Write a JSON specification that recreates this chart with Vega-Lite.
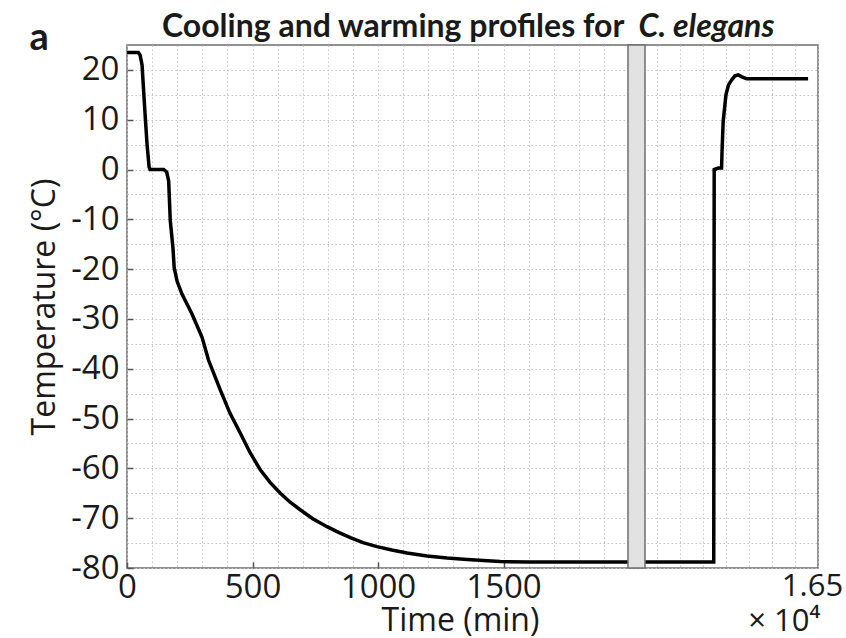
{
  "$schema": "https://vega.github.io/schema/vega-lite/v6.json",
  "width": 691,
  "height": 523,
  "autosize": "none",
  "padding": {"left": 127, "top": 45, "right": 28, "bottom": 70},
  "background": "white",
  "title": {
    "text": "Cooling and warming profiles for",
    "subtitle": "\u200b\u00a0\u00a0\u00a0\u00a0\u00a0\u00a0\u00a0\u00a0\u00a0\u00a0\u00a0\u00a0\u00a0\u00a0\u00a0\u00a0\u00a0\u00a0\u00a0\u00a0\u00a0\u00a0\u00a0\u00a0\u00a0\u00a0\u00a0\u00a0\u00a0\u00a0\u00a0\u00a0\u00a0\u00a0\u00a0\u00a0\u00a0\u00a0\u00a0\u00a0\u00a0\u00a0\u00a0\u00a0\u00a0\u00a0\u00a0\u00a0\u00a0\u00a0\u00a0\u00a0\u00a0\u00a0\u00a0\u00a0\u00a0\u00a0\u00a0\u00a0\u00a0\u00a0\u00a0\u00a0\u00a0\u00a0\u00a0\u00a0C. elegans",
    "anchor": "start",
    "align": "left",
    "frame": "group",
    "dx": 35,
    "offset": -50,
    "baseline": "alphabetic",
    "font": "Lato",
    "fontSize": 32,
    "fontWeight": "bold",
    "color": "#1a1a1a",
    "subtitleFont": "Lato",
    "subtitleFontSize": 32,
    "subtitleFontWeight": "bold",
    "subtitleFontStyle": "italic",
    "subtitleColor": "#1a1a1a",
    "subtitlePadding": -32
  },
  "resolve": {"axis": {"x": "independent"}},
  "config": {
    "view": {"stroke": "#6e6e6e", "strokeWidth": 1.5},
    "axis": {
      "domain": false,
      "ticks": false,
      "grid": true,
      "gridColor": "#c4c4c4",
      "gridDash": [1.5, 2.5],
      "gridWidth": 1,
      "labelFont": "Open Sans",
      "labelFontSize": 33,
      "labelColor": "#1a1a1a",
      "titleFont": "Open Sans",
      "titleFontSize": 32,
      "titleFontWeight": "normal",
      "titleColor": "#1a1a1a",
      "labelOverlap": false,
      "labelFlush": false
    }
  },
  "datasets": {
    "profile": [
      {"time": 0, "temp": 23.5},
      {"time": 45, "temp": 23.5},
      {"time": 52, "temp": 23},
      {"time": 60, "temp": 21},
      {"time": 66, "temp": 16},
      {"time": 73, "temp": 10.3},
      {"time": 80, "temp": 5},
      {"time": 88, "temp": 0.5},
      {"time": 92, "temp": 0},
      {"time": 146, "temp": 0},
      {"time": 158, "temp": -0.5},
      {"time": 166, "temp": -2.3},
      {"time": 172.5, "temp": -10.3},
      {"time": 183, "temp": -15.7},
      {"time": 188, "temp": -19.7},
      {"time": 200, "temp": -22.5},
      {"time": 219, "temp": -25},
      {"time": 259, "temp": -29},
      {"time": 299, "temp": -33.7},
      {"time": 325, "temp": -38.3},
      {"time": 372, "temp": -44.3},
      {"time": 410, "temp": -48.9},
      {"time": 451, "temp": -52.9},
      {"time": 490, "temp": -56.8},
      {"time": 531, "temp": -60.3},
      {"time": 570, "temp": -62.8},
      {"time": 611, "temp": -65},
      {"time": 650, "temp": -66.8},
      {"time": 690, "temp": -68.3},
      {"time": 740, "temp": -70.1},
      {"time": 797, "temp": -71.7},
      {"time": 845, "temp": -72.9},
      {"time": 890, "temp": -73.9},
      {"time": 940, "temp": -74.9},
      {"time": 996, "temp": -75.7},
      {"time": 1055, "temp": -76.4},
      {"time": 1116, "temp": -77},
      {"time": 1195, "temp": -77.6},
      {"time": 1275, "temp": -78},
      {"time": 1355, "temp": -78.3},
      {"time": 1420, "temp": -78.5},
      {"time": 1487, "temp": -78.7},
      {"time": 1600, "temp": -78.8},
      {"time": 1997, "temp": -78.8},
      {"time": 15750, "temp": -78.8},
      {"time": 16048, "temp": -78.8},
      {"time": 16050, "temp": 0},
      {"time": 16068, "temp": 0.3},
      {"time": 16082, "temp": 0.3},
      {"time": 16084, "temp": 3.7},
      {"time": 16089, "temp": 9.7},
      {"time": 16101, "temp": 15},
      {"time": 16112, "temp": 17},
      {"time": 16126, "temp": 18},
      {"time": 16140, "temp": 18.8},
      {"time": 16154, "temp": 19},
      {"time": 16170, "temp": 18.6},
      {"time": 16191, "temp": 18.2},
      {"time": 16457, "temp": 18.2}
    ],
    "gap": [{"from": 1996, "to": 15750}]
  },
  "layer": [
    {
      "data": {"name": "profile"},
      "mark": {"type": "line", "color": "#000000", "strokeWidth": 3.5, "strokeJoin": "miter"},
      "encoding": {
        "x": {
          "field": "time",
          "type": "quantitative",
          "scale": {"domain": [0, 2000, 15750, 16500], "range": [0, 502, 518, 691], "nice": false, "zero": false},
          "axis": {
            "title": "Time (min)",
            "titleX": 333,
            "titleY": 37,
            "titleBaseline": "top",
            "ticks": true,
            "tickSize": -6,
            "tickColor": "#555555",
            "tickWidth": 1.5,
            "tickOpacity": {"condition": {"test": "datum.value % 500 == 0 && datum.value <= 1500", "value": 1}, "value": 0},
            "labelPadding": 9,
            "labelLineHeight": 35,
            "labelOverlap": false,
            "labelFontSize": {"condition": {"test": "datum.value == 16500", "value": 31}, "value": 33},
            "labelOffset": {"condition": {"test": "datum.value == 16500", "value": -6}, "value": 0},
            "values": [0, 100, 200, 300, 400, 500, 600, 700, 800, 900, 1000, 1100, 1200, 1300, 1400, 1500, 1600, 1700, 1800, 1900, 2000, 15800, 15900, 16000, 16100, 16200, 16300, 16400, 16500],
            "labelExpr": "datum.value == 16500 ? ['1.65', '\u00d7 10\u2074\u00a0\u00a0\u00a0\u00a0\u00a0\u00a0\u00a0\u200b'] : ((datum.value <= 1500 && datum.value % 500 == 0) ? toString(datum.value) : '')"
          }
        },
        "y": {
          "field": "temp",
          "type": "quantitative",
          "scale": {"domain": [-80, 25], "nice": false, "zero": false},
          "axis": {
            "title": "Temperature (\u00b0C)",
            "titlePadding": 9,
            "ticks": true,
            "tickSize": -6,
            "tickColor": "#555555",
            "tickWidth": 1.5,
            "tickOpacity": {"condition": {"test": "datum.value % 10 == 0", "value": 1}, "value": 0},
            "labelPadding": 14,
            "labelOverlap": false,
            "values": [-80, -75, -70, -65, -60, -55, -50, -45, -40, -35, -30, -25, -20, -15, -10, -5, 0, 5, 10, 15, 20],
            "labelExpr": "datum.value % 10 == 0 ? toString(datum.value) : ''"
          }
        }
      }
    },
    {
      "data": {"name": "gap"},
      "mark": {"type": "rect", "fill": "#e2e2e2", "stroke": "#6e6e6e", "strokeWidth": 1.5},
      "encoding": {
        "x": {
          "field": "from",
          "type": "quantitative",
          "axis": {
            "orient": "top",
            "title": "a",
            "labels": false,
            "ticks": false,
            "grid": false,
            "domain": false,
            "titleFont": "Lato",
            "titleFontSize": 38,
            "titleFontWeight": "bold",
            "titleAngle": 0,
            "titleAlign": "left",
            "titleBaseline": "alphabetic",
            "titleX": -98,
            "titleY": 4
          }
        },
        "x2": {"field": "to"}
      }
    }
  ]
}
